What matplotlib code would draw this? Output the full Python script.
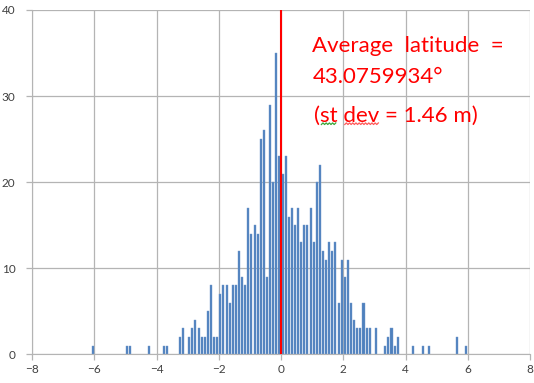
import numpy as np
import matplotlib
matplotlib.use("Agg")
import matplotlib.pyplot as plt

plt.rcParams['font.family'] = ['Lato', 'DejaVu Sans']

# histogram of latitude offsets (m), 0.1 m bins; only non-empty bins listed
bin_centers = [-6.05, -4.95, -4.85, -4.25, -3.75, -3.65, -3.25, -3.15,
               -2.95, -2.85, -2.75, -2.65, -2.55, -2.45, -2.35, -2.25, -2.15, -2.05,
               -1.95, -1.85, -1.75, -1.65, -1.55, -1.45, -1.35, -1.25, -1.15, -1.05,
               -0.95, -0.85, -0.75, -0.65, -0.55, -0.45, -0.35, -0.25, -0.15, -0.05,
               0.05, 0.15, 0.25, 0.35, 0.45, 0.55, 0.65, 0.75, 0.85, 0.95,
               1.05, 1.15, 1.25, 1.35, 1.45, 1.55, 1.65, 1.75, 1.85, 1.95,
               2.05, 2.15, 2.25, 2.35, 2.45, 2.55, 2.65, 2.75, 2.85, 3.05,
               3.35, 3.45, 3.55, 3.65, 3.75, 4.25, 4.55, 4.75, 5.65, 5.95]
counts = [1, 1, 1, 1, 1, 1, 2, 3,
          2, 3, 4, 3, 2, 2, 5, 8, 2, 2,
          7, 8, 8, 6, 8, 8, 12, 9, 8, 17,
          14, 15, 14, 25, 26, 9, 29, 20, 35, 23,
          21, 23, 16, 17, 15, 17, 13, 15, 15, 17,
          13, 20, 22, 12, 11, 13, 12, 13, 6, 11,
          9, 11, 6, 4, 3, 3, 6, 3, 3, 3,
          1, 2, 3, 1, 2, 1, 1, 1, 2, 1]

x_ticks = [-8, -6, -4, -2, 0, 2, 4, 6, 8]
y_ticks = [0, 10, 20, 30, 40]
mean_offset = 0

fig = plt.figure(figsize=(5.34, 3.83), dpi=100)
ax = fig.add_axes([0.060, 0.075, 0.9325, 0.899])

grid_c = '#b4b4b4'
ax.bar(bin_centers, counts, width=0.065, color='#4F81BD',
       edgecolor='#6f98cc', linewidth=0.3, zorder=2)
ax.axvline(mean_offset, color='#ff0000', lw=1.5, zorder=3)

ax.set_xlim(-8, 8)
ax.set_ylim(0, 40)
ax.set_xticks(x_ticks)
ax.set_yticks(y_ticks)
ax.grid(True, color=grid_c, lw=0.9, zorder=0)
for s in ax.spines.values():
    s.set_visible(False)
ax.spines['bottom'].set_visible(True)
ax.spines['left'].set_visible(True)
ax.spines['bottom'].set_color(grid_c)
ax.spines['left'].set_color(grid_c)
ax.tick_params(colors=grid_c, labelcolor='#404040', labelsize=8.5,
               length=4, width=0.9)
ax.tick_params(axis='y', pad=8)
ax.tick_params(axis='x', pad=3)

# annotation
fs = 16
tx = 0.563
ax.text(tx, 0.879, 'Average  latitude  =', transform=ax.transAxes,
        color='red', fontsize=fs, ha='left', va='baseline')
ax.text(tx, 0.787, '43.0759934\u00b0', transform=ax.transAxes,
        color='red', fontsize=fs, ha='left', va='baseline')
t3 = ax.text(tx + 0.004, 0.676, '(st dev = 1.46 m)', transform=ax.transAxes,
             color='red', fontsize=fs, ha='left', va='baseline')

# spell-check squiggles under "st" and "dev"
fig.canvas.draw()
r = fig.canvas.get_renderer()
bb = t3.get_window_extent(r)


def prefix_width(s):
    tmp = ax.text(0, 0, s, fontsize=fs, transform=None)
    w = tmp.get_window_extent(r).width
    tmp.remove()
    return w


base_y = bb.y0 + 1.0
for start, word, col in [('(', 'st', '#3aa63a'), ('(st ', 'dev', '#ff5a5a')]:
    x0 = bb.x0 + prefix_width(start) + 1
    x1 = bb.x0 + prefix_width(start + word) - 1
    xs = np.arange(x0, x1, 1.6)
    ys = base_y + np.where(np.arange(len(xs)) % 2 == 0, 0.0, 1.6)
    fig.add_artist(plt.Line2D(xs, ys, transform=None, color=col, lw=0.9))

fig.savefig('out.png', dpi=100)
